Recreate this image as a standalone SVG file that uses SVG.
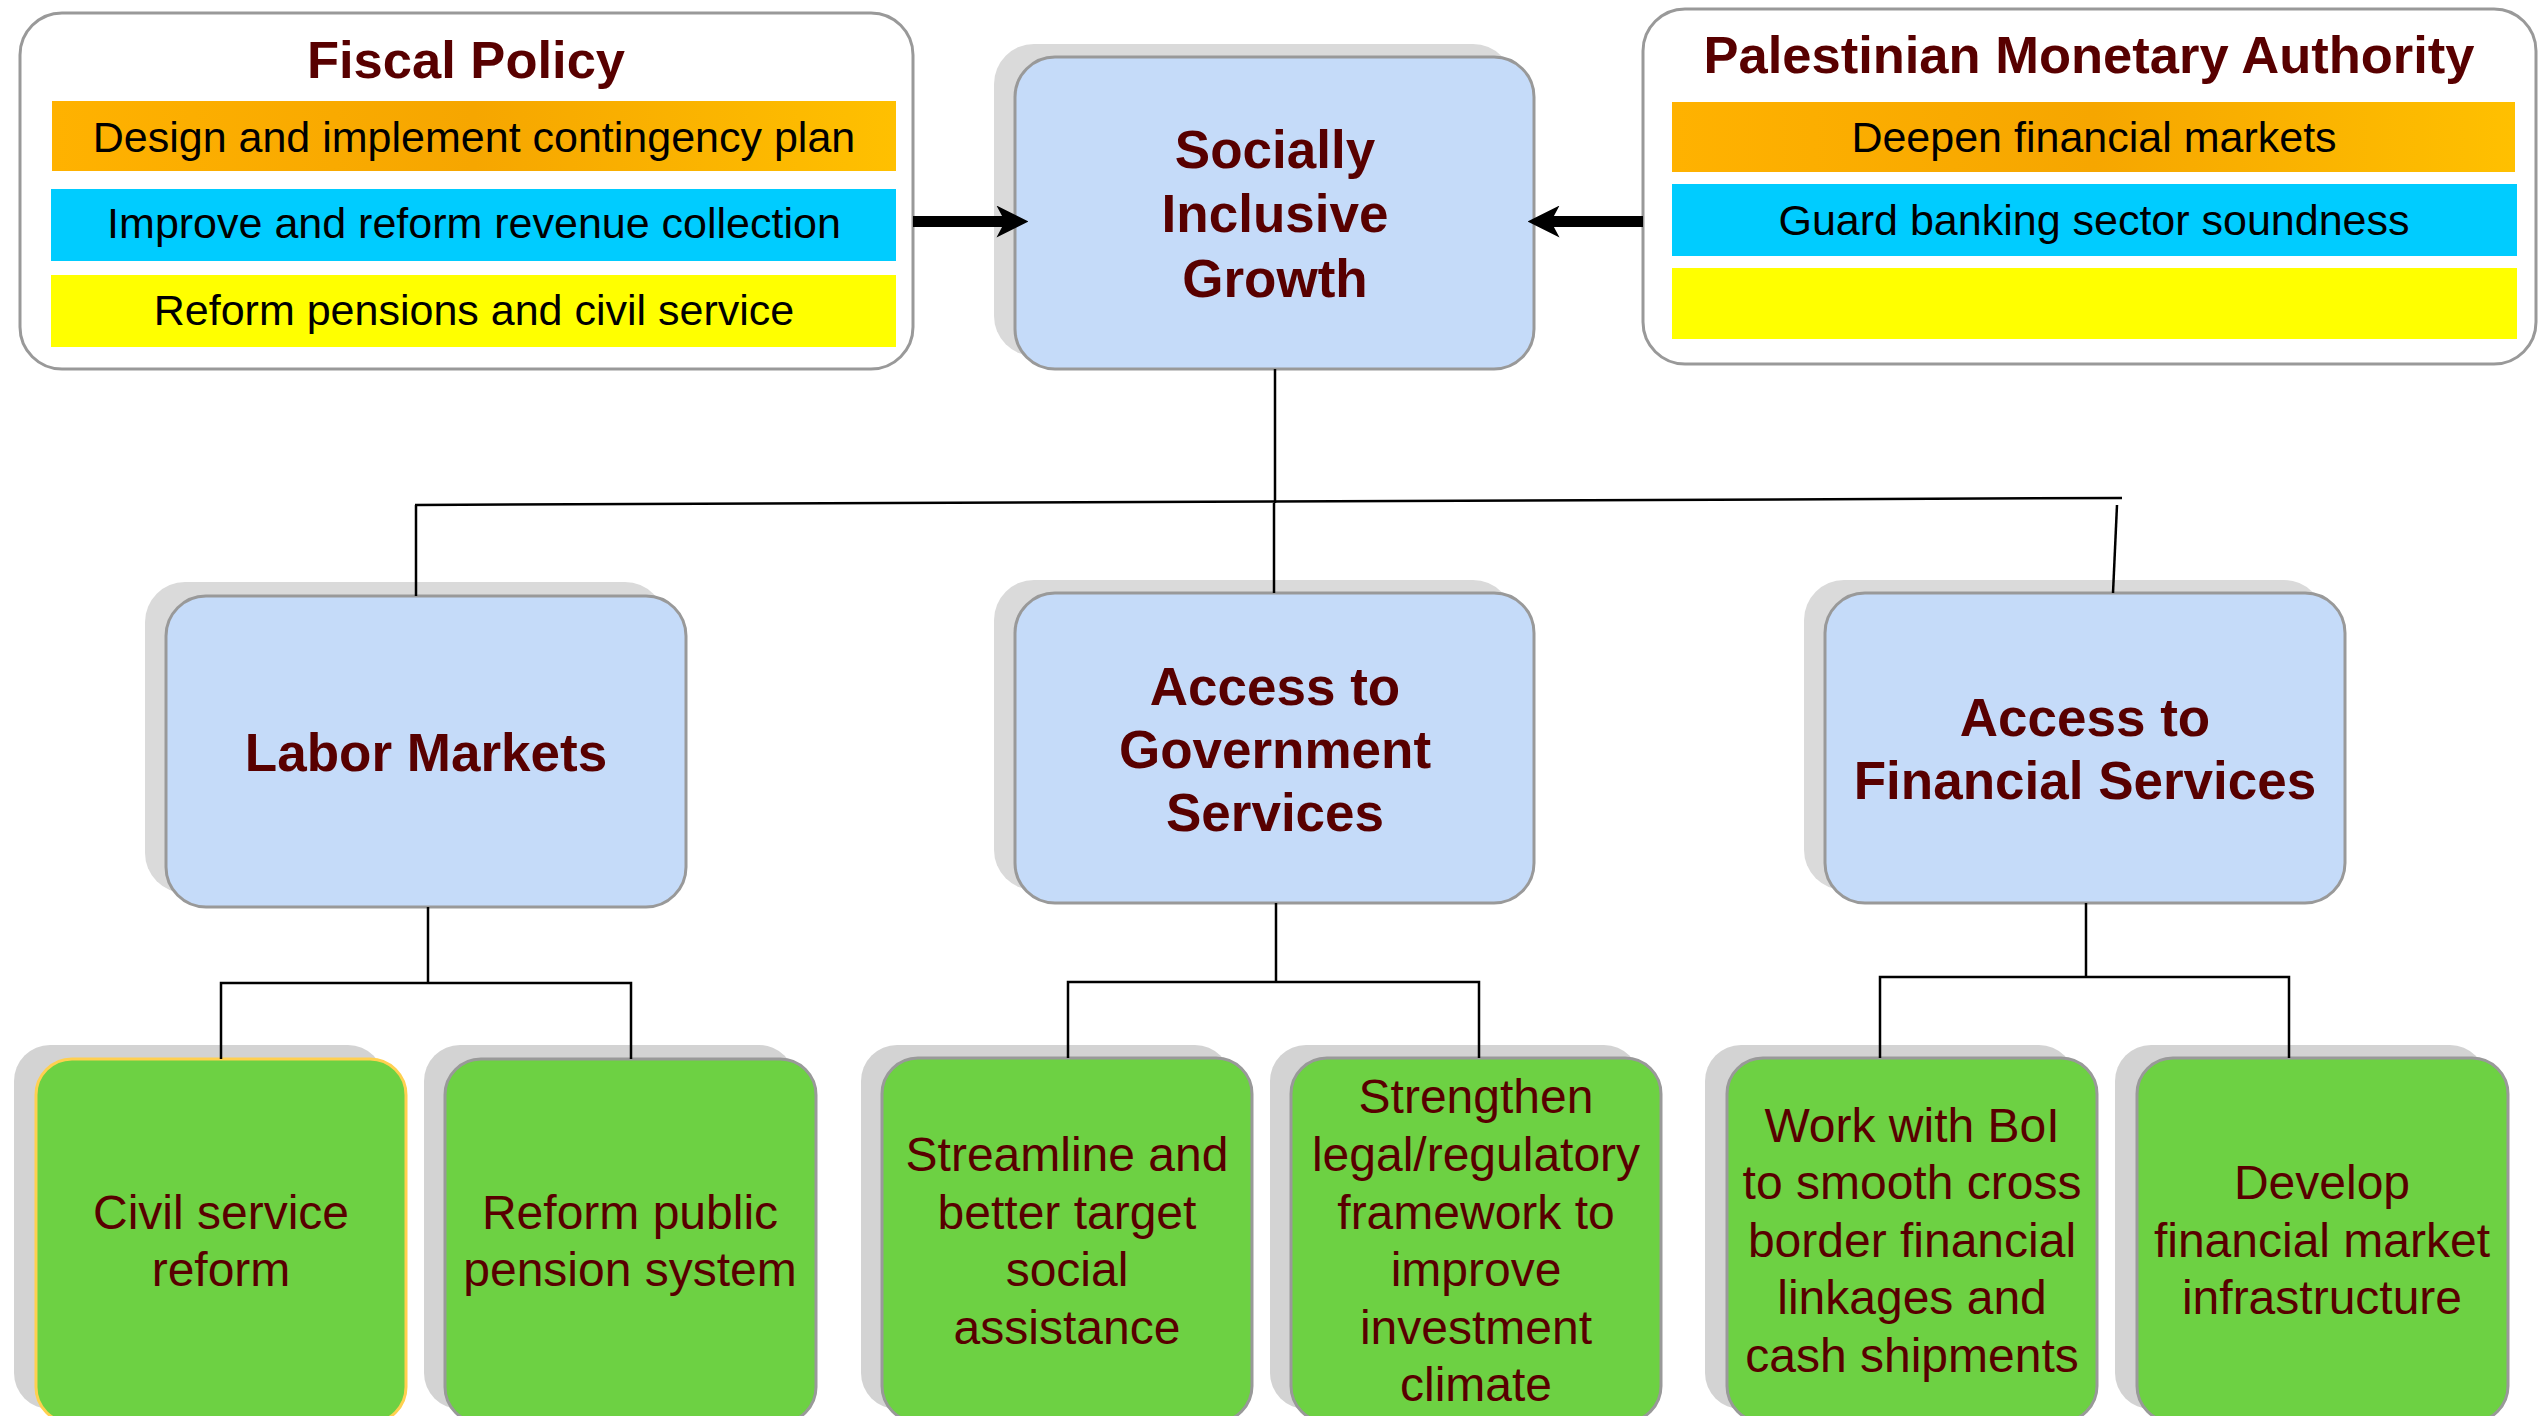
<svg xmlns="http://www.w3.org/2000/svg" width="2546" height="1416" viewBox="0 0 2546 1416">
<defs>
<linearGradient id="orangeGrad" x1="0" y1="0" x2="1" y2="0">
<stop offset="0" stop-color="#ffb200"/>
<stop offset="0.5" stop-color="#f6a600"/>
<stop offset="1" stop-color="#ffc000"/>
</linearGradient>
<marker id="arrowHead" markerUnits="userSpaceOnUse" markerWidth="32" markerHeight="32" viewBox="0 0 30 30" refX="8" refY="15" orient="auto">
<path d="M0,0 L30,15 L0,30 L8,15 Z" fill="#000"/>
</marker>
<style>
text{font-family:"Liberation Sans",Arial,sans-serif;text-anchor:middle;}
.panel{fill:#fff;stroke:#999;stroke-width:3;}
.ptitle{font-size:52.5px;font-weight:bold;fill:#580000;}
.band{font-size:43px;fill:#000;}
.orange{fill:url(#orangeGrad);}
.cyan{fill:#00ccff;}
.yellow{fill:#ffff00;}
.shadow{fill:#dadada;}
.shadow3{fill:#d3d3d3;}
.blue{fill:#c5dbf9;stroke:#999;stroke-width:3;}
.green{fill:#6dd143;stroke:#999;stroke-width:3;}
.greenGold{fill:#6dd143;stroke:#ffd050;stroke-width:3;}
.btxt{font-size:53px;font-weight:bold;fill:#580000;}
.gtxt{font-size:48px;fill:#580000;}
.conn{stroke:#000;stroke-width:2.5;fill:none;}
.thick{stroke:#000;stroke-width:11;fill:none;marker-end:url(#arrowHead);}
</style>
</defs>
<rect width="2546" height="1416" fill="#fff"/>

<g id="fiscal-policy">
<rect class="panel" x="20" y="13" width="893" height="356" rx="42"/>
<text class="ptitle" x="466" y="78">Fiscal Policy</text>
<rect class="orange" x="52" y="101" width="844" height="70"/>
<text class="band" x="474" y="152">Design and implement contingency plan</text>
<rect class="cyan" x="51" y="189" width="845" height="72"/>
<text class="band" x="474" y="238">Improve and reform revenue collection</text>
<rect class="yellow" x="51" y="275" width="845" height="72"/>
<text class="band" x="474" y="325">Reform pensions and civil service</text>
</g>

<g id="pma">
<rect class="panel" x="1643" y="9" width="893" height="355" rx="42"/>
<text class="ptitle" x="2089" y="73">Palestinian Monetary Authority</text>
<rect class="orange" x="1672" y="102" width="843" height="70"/>
<text class="band" x="2094" y="152">Deepen financial markets</text>
<rect class="cyan" x="1672" y="184" width="845" height="72"/>
<text class="band" x="2094" y="235">Guard banking sector soundness</text>
<rect class="yellow" x="1672" y="268" width="845" height="71"/>
</g>

<g id="socially-inclusive-growth">
<rect class="shadow" x="994" y="44" width="519" height="312" rx="40"/>
<rect class="blue" x="1015" y="57" width="519" height="312" rx="40"/>
<text class="btxt" x="1275" y="168">Socially</text>
<text class="btxt" x="1275" y="232">Inclusive</text>
<text class="btxt" x="1275" y="297">Growth</text>
</g>

<g id="labor-markets">
<rect class="shadow" x="145" y="582" width="520" height="311" rx="40"/>
<rect class="blue" x="166" y="596" width="520" height="311" rx="40"/>
<text class="btxt" x="426" y="771">Labor Markets</text>
</g>

<g id="access-government-services">
<rect class="shadow" x="994" y="580" width="519" height="310" rx="40"/>
<rect class="blue" x="1015" y="593" width="519" height="310" rx="40"/>
<text class="btxt" x="1275" y="705">Access to</text>
<text class="btxt" x="1275" y="768">Government</text>
<text class="btxt" x="1275" y="831">Services</text>
</g>

<g id="access-financial-services">
<rect class="shadow" x="1804" y="580" width="520" height="310" rx="40"/>
<rect class="blue" x="1825" y="593" width="520" height="310" rx="40"/>
<text class="btxt" x="2085" y="736">Access to</text>
<text class="btxt" x="2085" y="799">Financial Services</text>
</g>

<g id="civil-service-reform">
<rect class="shadow3" x="14" y="1045" width="370" height="364" rx="36"/>
<rect class="greenGold" x="36" y="1059" width="370" height="364" rx="36"/>
<text class="gtxt" x="221" y="1229">Civil service</text>
<text class="gtxt" x="221" y="1286">reform</text>
</g>

<g id="reform-pension">
<rect class="shadow3" x="424" y="1045" width="371" height="364" rx="36"/>
<rect class="green" x="445" y="1059" width="371" height="364" rx="36"/>
<text class="gtxt" x="630" y="1229">Reform public</text>
<text class="gtxt" x="630" y="1286">pension system</text>
</g>

<g id="streamline-social-assistance">
<rect class="shadow3" x="861" y="1045" width="370" height="364" rx="36"/>
<rect class="green" x="882" y="1058" width="370" height="364" rx="36"/>
<text class="gtxt" x="1067" y="1171">Streamline and</text>
<text class="gtxt" x="1067" y="1229">better target</text>
<text class="gtxt" x="1067" y="1286">social</text>
<text class="gtxt" x="1067" y="1344">assistance</text>
</g>

<g id="strengthen-legal-framework">
<rect class="shadow3" x="1270" y="1045" width="370" height="364" rx="36"/>
<rect class="green" x="1291" y="1058" width="370" height="364" rx="36"/>
<text class="gtxt" x="1476" y="1113">Strengthen</text>
<text class="gtxt" x="1476" y="1171">legal/regulatory</text>
<text class="gtxt" x="1476" y="1229">framework to</text>
<text class="gtxt" x="1476" y="1286">improve</text>
<text class="gtxt" x="1476" y="1344">investment</text>
<text class="gtxt" x="1476" y="1401">climate</text>
</g>

<g id="work-with-boi">
<rect class="shadow3" x="1705" y="1045" width="370" height="364" rx="36"/>
<rect class="green" x="1727" y="1058" width="370" height="364" rx="36"/>
<text class="gtxt" x="1912" y="1142">Work with BoI</text>
<text class="gtxt" x="1912" y="1199">to smooth cross</text>
<text class="gtxt" x="1912" y="1257">border financial</text>
<text class="gtxt" x="1912" y="1314">linkages and</text>
<text class="gtxt" x="1912" y="1372">cash shipments</text>
</g>

<g id="develop-infrastructure">
<rect class="shadow3" x="2115" y="1045" width="371" height="364" rx="36"/>
<rect class="green" x="2137" y="1058" width="371" height="364" rx="36"/>
<text class="gtxt" x="2322" y="1199">Develop</text>
<text class="gtxt" x="2322" y="1257">financial market</text>
<text class="gtxt" x="2322" y="1314">infrastructure</text>
</g>

<g id="connectors">
<line class="thick" x1="913" y1="221.5" x2="1005" y2="221.5"/>
<line class="thick" x1="1643" y1="221.5" x2="1551" y2="221.5"/>
<line class="conn" x1="1275" y1="369" x2="1275" y2="503"/>
<line class="conn" x1="415" y1="505" x2="2122" y2="498"/>
<line class="conn" x1="416" y1="505" x2="416" y2="596"/>
<line class="conn" x1="1274" y1="503" x2="1274" y2="593"/>
<line class="conn" x1="2117" y1="505" x2="2113" y2="593"/>
<line class="conn" x1="428" y1="907" x2="428" y2="983"/>
<polyline class="conn" points="221,1059 221,983 631,983 631,1059"/>
<line class="conn" x1="1276" y1="903" x2="1276" y2="982"/>
<polyline class="conn" points="1068,1058 1068,982 1479,982 1479,1058"/>
<line class="conn" x1="2086" y1="903" x2="2086" y2="977"/>
<polyline class="conn" points="1880,1058 1880,977 2289,977 2289,1058"/>
</g>
</svg>
